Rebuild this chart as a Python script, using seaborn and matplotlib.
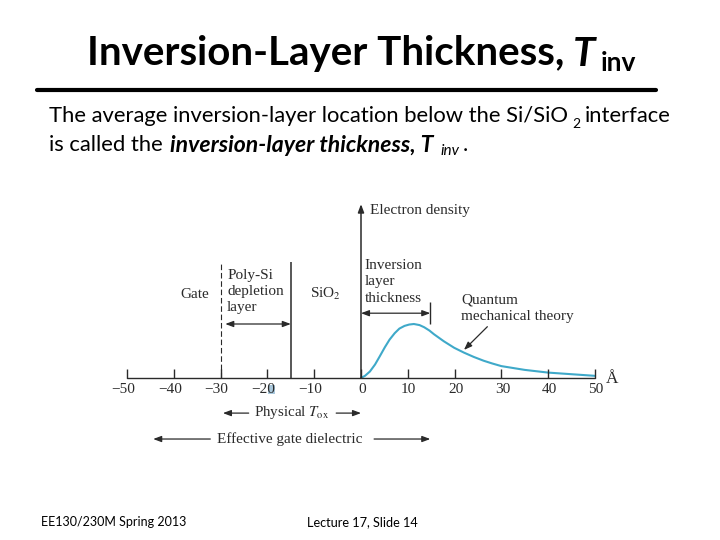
import matplotlib
matplotlib.use('Agg')
import matplotlib.pyplot as plt
import seaborn as sns
import pandas as pd

# curve
depth = [0, 0.85, 1.9, 3, 4, 5.1, 6.1, 7.2, 8.2, 9.3, 10.3, 11.3, 12.5, 13.5, 14.6, 15.6, 17.7, 19.9, 22, 24.1, 26.2,
         28, 30, 35, 40, 45, 50]
density = [0, 0.04, 0.12, 0.25, 0.40, 0.57, 0.71, 0.83, 0.915, 0.965, 0.99, 1.0, 0.98, 0.94, 0.88, 0.81, 0.68, 0.56,
           0.47, 0.39, 0.32, 0.27, 0.22, 0.15, 0.10, 0.07, 0.04]
tick_vals = [-50, -40, -30, -20, -10, 0, 10, 20, 30, 40, 50]
tick_labels = ['−50', '−40', '−30', '−20', '−10', '0', '10', '20', '30', '40', '50']

W, H = 720, 540
PX_X = 4.68   # px per angstrom
PX_Y = 54.0   # px per density unit
X0, Y0 = 361, 378

sns.set_theme(style='white')
plt.rcParams['font.family'] = ['Lato', 'DejaVu Sans']

fig = plt.figure(figsize=(W / 100, H / 100), dpi=100)
ax = fig.add_axes([0, 0, 1, 1])
ax.set_xlim(-X0 / PX_X, (W - X0) / PX_X)
ax.set_ylim(-(H - Y0) / PX_Y, Y0 / PX_Y)
ax.axis('off')

df = pd.DataFrame({'depth': depth, 'density': density})
sns.lineplot(data=df, x='depth', y='density', color='#3fa9c9', lw=1.5, ax=ax, errorbar=None)

DARK = '#2a2a2a'
SERIF = 'Liberation Serif'


def label(x, y, s, size=11, **kw):
    ax.text(x, y, s, family=SERIF, fontsize=size, color=DARK, va='center', **kw)


def arrow(x1, y1, x2, y2, style='-|>', lw=0.9):
    ax.annotate('', xy=(x2, y2), xytext=(x1, y1),
                arrowprops=dict(arrowstyle=style + ',head_length=0.4,head_width=0.15', color=DARK, lw=lw,
                                shrinkA=0, shrinkB=0))


# axes and ticks
ax.plot([-50, 50], [0, 0], color=DARK, lw=1)
ax.vlines(tick_vals, 0, 0.17, color=DARK, lw=1)
arrow(0, 0, 0, 3.22, lw=1.1)
ax.vlines(-14.9, 0, 2.15, color=DARK, lw=1.1)
ax.plot([-30, -30], [0, 2.11], color=DARK, lw=0.8, ls=(0, (5, 2.5)))
ax.vlines(14.8, 1.0, 1.4, color=DARK, lw=1)

ax.add_patch(plt.Rectangle((-19.87, -0.30), 1.5, 0.17, color='#a9c8dc', lw=0))
for v, t in zip(tick_vals, tick_labels):
    if v < 0:
        label(v + 1.7, -0.21, t, ha='right')
    else:
        label(v + 0.2, -0.21, t, ha='center')
label(52.3, -0.02, 'Å', size=12.5, ha='left')

# arrows
arrow(-29, 1.0, -15, 1.0, '<|-|>')
arrow(0, 1.2, 14.8, 1.2, '<|-|>')
arrow(-24, -0.65, -29.5, -0.65)
arrow(-5.3, -0.65, 0, -0.65)
arrow(-32.2, -1.13, -44.4, -1.13)
arrow(2.8, -1.13, 14.8, -1.13)
arrow(27, 0.95, 22, 0.52)

# diagram text
label(-35.6, 1.55, 'Gate', ha='center')
label(-28.6, 1.9, 'Poly-Si')
label(-28.6, 1.6, 'depletion')
label(-28.6, 1.3, 'layer')
label(-10.9, 1.55, 'SiO$_2$', math_fontfamily='stix')
label(0.8, 2.08, 'Inversion')
label(0.8, 1.78, 'layer')
label(0.8, 1.47, 'thickness')
label(21.4, 1.45, 'Quantum')
label(21.4, 1.14, 'mechanical theory')
label(2, 3.1, 'Electron density')
label(-14.8, -0.63, 'Physical $T_{\\mathrm{ox}}$', size=10.8, ha='center', math_fontfamily='stix')
label(-15.2, -1.13, 'Effective gate dielectric', size=11, ha='center')


def px(x, y):
    return x / W, 1 - y / H


# slide text
fig.text(*px(87, 54), 'Inversion-Layer Thickness,', fontsize=29, fontweight='bold', va='center', color='black')
fig.text(*px(573, 54), 'T', fontsize=29, fontweight='bold', style='italic', va='center', color='black')
fig.text(*px(601, 63), 'inv', fontsize=19, fontweight='bold', va='center', color='black')
fig.add_artist(plt.Line2D([37 / W, 656 / W], [1 - 90 / H, 1 - 90 / H], color='black', lw=3))

fig.text(*px(49, 116), 'The average inversion-layer location below the Si/SiO', fontsize=15.85, va='center', color='black')
fig.text(*px(572, 124), '2', fontsize=10, va='center', color='black')
fig.text(*px(585, 116), 'interface', fontsize=15.85, va='center', color='black')
fig.text(*px(49, 145), 'is called the', fontsize=15.85, va='center', color='black')
fig.text(*px(170, 145), 'inversion-layer thickness, T', fontsize=16.6, fontweight='bold', style='italic', va='center',
         color='black')
fig.text(*px(440, 151), 'inv', fontsize=11, style='italic', va='center', color='black')
fig.text(*px(463, 145), '.', fontsize=16, va='center', color='black')

fig.text(*px(41, 522), 'EE130/230M Spring 2013', fontsize=9, va='center', color='black')
fig.text(*px(307, 522), 'Lecture 17, Slide 14', fontsize=9.2, va='center', color='black')

fig.savefig('out.png', dpi=100)
